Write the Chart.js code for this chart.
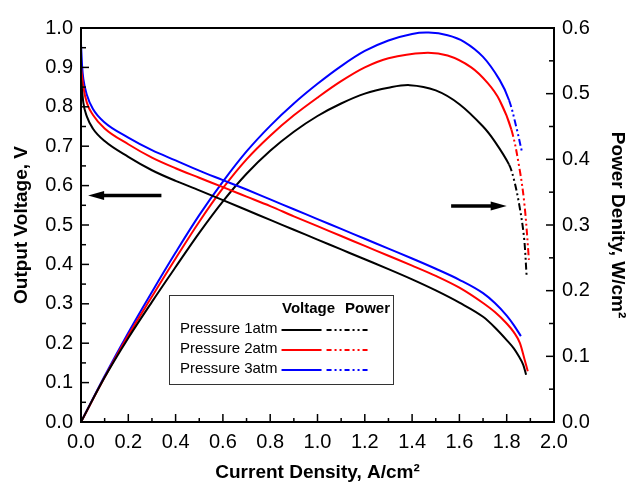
<!DOCTYPE html>
<html>
<head>
<meta charset="utf-8">
<script src="https://cdn.jsdelivr.net/npm/chart.js@4.4.1/dist/chart.umd.min.js"></script>
<style>
  html, body { margin: 0; padding: 0; background: #fff; }
</style>
</head>
<body>
<canvas id="fuelCell" width="633" height="484"></canvas>
<script>
// current density (A/cm2) for each voltage curve
const currV1 = [0, 0.01, 0.025, 0.05, 0.1, 0.2, 0.3, 0.4, 0.5, 0.6, 0.7, 0.8, 0.9, 1.0, 1.1, 1.2, 1.3, 1.4, 1.5, 1.6, 1.7, 1.75, 1.8, 1.83, 1.85, 1.87, 1.882];
const volt1 = [0.87, 0.81, 0.775, 0.745, 0.713, 0.673, 0.639, 0.612, 0.588, 0.563, 0.538, 0.513, 0.488, 0.463, 0.438, 0.413, 0.388, 0.362, 0.334, 0.303, 0.267, 0.24, 0.208, 0.187, 0.168, 0.145, 0.12];

const currV2 = [0, 0.01, 0.025, 0.05, 0.1, 0.2, 0.3, 0.4, 0.5, 0.6, 0.7, 0.8, 0.9, 1.0, 1.1, 1.2, 1.3, 1.4, 1.5, 1.6, 1.7, 1.75, 1.8, 1.83, 1.856, 1.875, 1.889];
const volt2 = [0.90, 0.85, 0.81, 0.78, 0.745, 0.705, 0.671, 0.644, 0.62, 0.596, 0.572, 0.548, 0.522, 0.497, 0.472, 0.447, 0.422, 0.397, 0.371, 0.341, 0.302, 0.279, 0.25, 0.228, 0.2, 0.16, 0.129];

const currV3 = [0, 0.005, 0.01, 0.025, 0.05, 0.1, 0.2, 0.3, 0.4, 0.5, 0.6, 0.7, 0.8, 0.9, 1.0, 1.1, 1.2, 1.3, 1.4, 1.5, 1.6, 1.7, 1.75, 1.8, 1.83, 1.86];
const volt3 = [0.96, 0.90, 0.87, 0.83, 0.795, 0.76, 0.722, 0.69, 0.664, 0.638, 0.614, 0.59, 0.565, 0.54, 0.515, 0.49, 0.465, 0.44, 0.415, 0.389, 0.361, 0.327, 0.302, 0.27, 0.246, 0.218];

// current density (A/cm2) for each power curve
const currP1 = [0, 0.1, 0.2, 0.3, 0.4, 0.5, 0.6, 0.7, 0.8, 0.9, 1.0, 1.1, 1.2, 1.3, 1.39, 1.5, 1.6, 1.7, 1.75, 1.81, 1.83, 1.852, 1.873, 1.884];
const power1 = [0, 0.068, 0.128, 0.183, 0.236, 0.288, 0.336, 0.378, 0.413, 0.442, 0.466, 0.485, 0.5, 0.509, 0.513, 0.505, 0.484, 0.45, 0.427, 0.392, 0.37, 0.333, 0.282, 0.224];

const currP2 = [0, 0.1, 0.2, 0.3, 0.4, 0.5, 0.6, 0.7, 0.8, 0.9, 1.0, 1.1, 1.2, 1.3, 1.45, 1.55, 1.65, 1.72, 1.77, 1.82, 1.855, 1.876, 1.894];
const power2 = [0, 0.068, 0.132, 0.191, 0.249, 0.305, 0.356, 0.4, 0.436, 0.467, 0.494, 0.519, 0.54, 0.554, 0.562, 0.558, 0.54, 0.516, 0.49, 0.445, 0.384, 0.328, 0.247];

const currP3 = [0, 0.1, 0.2, 0.3, 0.4, 0.5, 0.6, 0.7, 0.8, 0.9, 1.0, 1.1, 1.2, 1.3, 1.4, 1.47, 1.55, 1.62, 1.7, 1.77, 1.81, 1.84, 1.866];
const power3 = [0, 0.07, 0.136, 0.198, 0.258, 0.315, 0.366, 0.412, 0.451, 0.485, 0.515, 0.542, 0.565, 0.581, 0.591, 0.593, 0.589, 0.579, 0.556, 0.521, 0.49, 0.45, 0.409];

const seriesNames = ['Pressure 1atm', 'Pressure 2atm', 'Pressure 3atm'];
const colors = ['#000000', '#ff0000', '#0000ff'];
// power curves switch to dash-dot-dot from here on
const dashFrom = [1.81, 1.82, 1.81];
const dashDotDot = [7, 3, 2, 3, 2, 3];

const FONT = '"Liberation Sans", Arial, sans-serif';
Chart.defaults.font.family = FONT;
Chart.defaults.color = '#000';

function pts(xs, ys) {
  return xs.map((x, i) => ({ x: x, y: ys[i] }));
}

function voltSet(i, xs, ys) {
  return {
    label: seriesNames[i] + ' voltage',
    data: pts(xs, ys),
    yAxisID: 'y',
    borderColor: colors[i],
    borderWidth: 2,
    pointRadius: 0,
    cubicInterpolationMode: 'monotone'
  };
}

function powerSet(i, xs, ys) {
  return {
    label: seriesNames[i] + ' power',
    data: pts(xs, ys),
    yAxisID: 'y1',
    borderColor: colors[i],
    borderWidth: 2,
    pointRadius: 0,
    tension: 0.35,
    segment: {
      borderDash: ctx => ctx.p0.parsed.x >= dashFrom[i] - 0.001 ? dashDotDot : undefined
    }
  };
}

function line(ctx, x1, y1, x2, y2) {
  ctx.beginPath();
  ctx.moveTo(x1, y1);
  ctx.lineTo(x2, y2);
  ctx.stroke();
}

function arrow(ctx, x1, x2, y) {
  const dir = x2 > x1 ? 1 : -1;
  ctx.lineWidth = 3.5;
  line(ctx, x1, y, x2 - dir * 12, y);
  ctx.beginPath();
  ctx.moveTo(x2, y);
  ctx.lineTo(x2 - dir * 16, y - 4.5);
  ctx.lineTo(x2 - dir * 16, y + 4.5);
  ctx.closePath();
  ctx.fill();
}

// frame, inward ticks, arrows and the two-column legend box
const decorations = {
  id: 'decorations',
  afterDraw(chart) {
    const { ctx, chartArea: a, scales } = chart;
    ctx.save();
    ctx.strokeStyle = '#000';
    ctx.fillStyle = '#000';
    ctx.lineWidth = 2;
    ctx.strokeRect(a.left, a.top, a.right - a.left, a.bottom - a.top);

    ctx.lineWidth = 1.5;
    for (let k = 1; k < 20; k++) {
      const px = scales.x.getPixelForValue(k / 10);
      line(ctx, px, a.bottom, px, a.bottom - (k % 2 === 0 ? 8 : 4));
    }
    for (let k = 1; k < 20; k++) {
      const py = scales.y.getPixelForValue(k / 20);
      line(ctx, a.left, py, a.left + (k % 2 === 0 ? 8 : 5), py);
    }
    for (let k = 1; k < 12; k++) {
      const py = scales.y1.getPixelForValue(k / 20);
      line(ctx, a.right, py, a.right - (k % 2 === 0 ? 8 : 5), py);
    }

    arrow(ctx, scales.x.getPixelForValue(0.34), scales.x.getPixelForValue(0.03), scales.y.getPixelForValue(0.575));
    arrow(ctx, scales.x.getPixelForValue(1.565), scales.x.getPixelForValue(1.8), scales.y1.getPixelForValue(0.329));

    // legend
    const bx = a.left + 88, by = a.top + 267, bw = 224, bh = 89;
    ctx.lineWidth = 1;
    ctx.strokeStyle = '#333';
    ctx.strokeRect(bx + 0.5, by + 0.5, bw, bh);
    ctx.textBaseline = 'middle';
    ctx.font = 'bold 15px ' + FONT;
    ctx.textAlign = 'left';
    ctx.fillText('Voltage', bx + 113, by + 14);
    ctx.fillText('Power', bx + 176, by + 14);
    ctx.font = '15px ' + FONT;
    for (let i = 0; i < 3; i++) {
      const ty = by + 34 + i * 20;
      ctx.fillStyle = '#000';
      ctx.fillText(seriesNames[i], bx + 11, ty);
      const x0 = bx + 11 + ctx.measureText(seriesNames[i]).width + 4;
      ctx.strokeStyle = colors[i];
      ctx.lineWidth = 2;
      ctx.setLineDash([]);
      line(ctx, x0, ty + 1, x0 + 40, ty + 1);
      ctx.setLineDash([5, 3, 2, 3, 2, 3]);
      line(ctx, x0 + 45, ty + 1, x0 + 86, ty + 1);
      ctx.setLineDash([]);
    }
    ctx.restore();
  }
};

const fmt = v => Number(v).toFixed(1);

new Chart(document.getElementById('fuelCell').getContext('2d'), {
  type: 'line',
  data: {
    datasets: [
      voltSet(0, currV1, volt1),
      voltSet(1, currV2, volt2),
      voltSet(2, currV3, volt3),
      powerSet(0, currP1, power1),
      powerSet(1, currP2, power2),
      powerSet(2, currP3, power3)
    ]
  },
  options: {
    responsive: false,
    animation: false,
    layout: { padding: { top: 28, left: 0, right: 0, bottom: 0 } },
    plugins: { legend: { display: false }, tooltip: { enabled: false } },
    scales: {
      x: {
        type: 'linear',
        min: 0, max: 2,
        grid: { display: false, drawTicks: false },
        border: { display: false },
        ticks: { stepSize: 0.2, padding: 8, font: { size: 20 }, callback: fmt, maxRotation: 0 },
        title: { display: true, text: 'Current Density, A/cm²', font: { size: 19, weight: 'bold' }, padding: { top: 0, bottom: 0 } },
        afterFit: s => { s.height = 62; }
      },
      y: {
        position: 'left',
        min: 0, max: 1,
        grid: { display: false, drawTicks: false },
        border: { display: false },
        ticks: { stepSize: 0.1, padding: 8, font: { size: 20 }, callback: fmt },
        title: { display: true, text: 'Output Voltage, V', font: { size: 19, weight: 'bold' }, padding: { top: 10, bottom: 0 } },
        afterFit: s => { s.width = 81; }
      },
      y1: {
        position: 'right',
        min: 0, max: 0.6,
        grid: { display: false, drawTicks: false },
        border: { display: false },
        ticks: { stepSize: 0.1, padding: 8, font: { size: 20 }, callback: fmt },
        title: { display: true, text: 'Power Denity, W/cm²', font: { size: 19, weight: 'bold' }, padding: { top: 4, bottom: 0 } },
        afterFit: s => { s.width = 79; }
      }
    }
  },
  plugins: [decorations]
});
</script>
</body>
</html>
